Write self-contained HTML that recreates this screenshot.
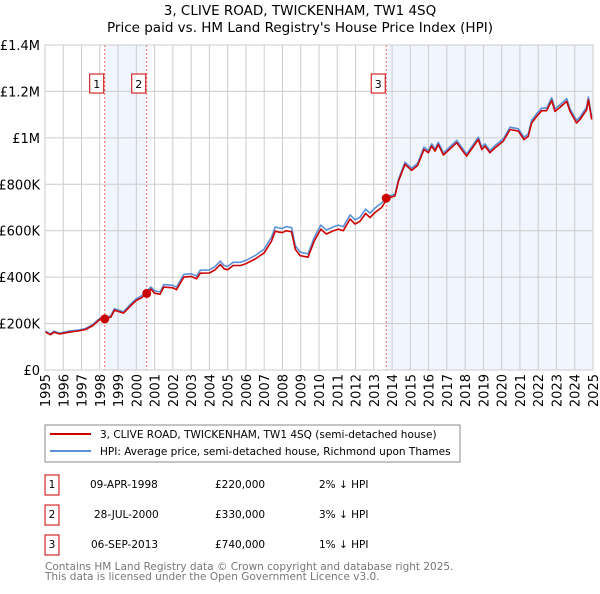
<!DOCTYPE html>
<html><head><meta charset="utf-8"><style>
body{margin:0;background:#fff;font-family:"DejaVu Sans","Liberation Sans",sans-serif;}
svg text{font-family:"DejaVu Sans","Liberation Sans",sans-serif;}
</style></head><body>
<svg id="chart" width="600" height="590" xmlns="http://www.w3.org/2000/svg">
<text x="300" y="15" text-anchor="middle" font-size="13.5" fill="#000">3, CLIVE ROAD, TWICKENHAM, TW1 4SQ</text>
<text x="300" y="32" text-anchor="middle" font-size="13.5" fill="#000">Price paid vs. HM Land Registry's House Price Index (HPI)</text>
<g id="shade"></g><g id="grid"></g><g id="series"></g><g id="marks"></g>
<rect x="45" y="45" width="548" height="325" fill="none" stroke="#ccc"/>
<g id="axes"></g>
<rect x="45" y="425" width="415" height="37" fill="#fff" stroke="#888"/>
<line x1="50" y1="434" x2="91" y2="434" stroke="#cc0000" stroke-width="2"/>
<text x="100" y="438" font-size="10.5">3, CLIVE ROAD, TWICKENHAM, TW1 4SQ (semi-detached house)</text>
<line x1="50" y1="451" x2="91" y2="451" stroke="#5b8fd6" stroke-width="2"/>
<text x="100" y="455" font-size="10.5">HPI: Average price, semi-detached house, Richmond upon Thames</text>
<g font-size="10.5">
<rect x="45" y="475" width="14" height="20" fill="none" stroke="#cc0000"/><text x="52" y="488" text-anchor="middle">1</text>
<text x="90" y="488">09-APR-1998</text><text x="215" y="488">£220,000</text><text x="319" y="488">2% ↓ HPI</text>
<rect x="45" y="505" width="14" height="20" fill="none" stroke="#cc0000"/><text x="52" y="518" text-anchor="middle">2</text>
<text x="94" y="518">28-JUL-2000</text><text x="215" y="518">£330,000</text><text x="319" y="518">3% ↓ HPI</text>
<rect x="45" y="535" width="14" height="20" fill="none" stroke="#cc0000"/><text x="52" y="548" text-anchor="middle">3</text>
<text x="91" y="548">06-SEP-2013</text><text x="215" y="548">£740,000</text><text x="319" y="548">1% ↓ HPI</text>
</g>
<text x="45" y="570" font-size="10.5" fill="#777">Contains HM Land Registry data © Crown copyright and database right 2025.</text>
<text x="45" y="580" font-size="10.5" fill="#777">This data is licensed under the Open Government Licence v3.0.</text>
</svg>
<script>
const dates=[1995.0,1995.3,1995.5,1995.8,1996.3,1996.8,1997.2,1997.6,1998.0,1998.27,1998.6,1998.8,1999.3,1999.7,2000.0,2000.3,2000.57,2000.8,2001.0,2001.3,2001.5,2002.0,2002.2,2002.6,2003.0,2003.3,2003.5,2004.0,2004.3,2004.6,2004.8,2005.0,2005.3,2005.7,2006.0,2006.5,2007.0,2007.4,2007.6,2007.8,2008.0,2008.2,2008.5,2008.7,2008.96,2009.4,2009.75,2010.1,2010.4,2010.8,2011.06,2011.33,2011.7,2011.97,2012.24,2012.55,2012.79,2013.07,2013.43,2013.74,2014.16,2014.35,2014.71,2015.07,2015.4,2015.75,2015.99,2016.17,2016.35,2016.53,2016.81,2017.54,2018.08,2018.72,2018.91,2019.09,2019.36,2019.64,2020.09,2020.46,2020.91,2021.22,2021.46,2021.64,2021.92,2022.19,2022.46,2022.74,2022.92,2023.19,2023.56,2023.74,2024.1,2024.29,2024.65,2024.75,2024.93];
const price=[164,152,163,155,163,168,174,190,218,220,228,258,245,278,300,312,330,348,331,326,357,354,346,400,403,393,417,418,431,455,436,432,450,450,458,478,505,555,598,594,592,600,595,520,493,486,557,607,586,600,607,600,650,629,640,674,657,679,700,740,750,814,886,860,881,950,936,964,943,971,926,979,921,993,950,964,936,957,986,1036,1029,993,1007,1064,1093,1117,1117,1161,1114,1131,1157,1114,1064,1079,1121,1164,1079];
const hpi=[168,156,167,159,167,172,178,195,223,225,233,264,251,285,307,320,340,358,341,336,368,365,357,412,415,405,430,431,445,469,450,446,464,464,472,493,521,572,616,612,610,618,613,536,508,500,573,624,603,617,624,617,668,647,658,693,676,698,720,748,757,822,895,869,890,960,945,974,952,981,935,989,930,1003,960,974,945,967,996,1046,1039,1003,1017,1075,1104,1128,1128,1173,1125,1142,1169,1125,1075,1090,1132,1176,1090];
const saleDates=[1998.27,2000.57,2013.68];
const salePrices=[220,330,740];
const saleLabels=["1","2","3"];
const yTicks=[0,200,400,600,800,1000,1200,1400];
const yTickLabels=["£0","£200K","£400K","£600K","£800K","£1M","£1.2M","£1.4M"];
const xYears=[1995,1996,1997,1998,1999,2000,2001,2002,2003,2004,2005,2006,2007,2008,2009,2010,2011,2012,2013,2014,2015,2016,2017,2018,2019,2020,2021,2022,2023,2024,2025];
const NS="http://www.w3.org/2000/svg";
const X=y=>45+(y-1995)*(548/30);
const Y=v=>370-v*(325/1400);
function mk(parent,tag,attrs,txt){const e=document.createElementNS(NS,tag);for(const k in attrs)e.setAttribute(k,attrs[k]);if(txt!==undefined)e.textContent=txt;document.getElementById(parent).appendChild(e);return e;}
[[saleDates[0],saleDates[1]],[saleDates[2],2025]].forEach((r,i)=>{
 const e=mk('shade','rect',{x:X(r[0]),y:45,width:X(r[1])-X(r[0]),height:325,fill:'#eef3fc',opacity:0.8});
 
 
});
yTicks.forEach((t,i)=>{
 const g=mk('grid','line',{x1:45,x2:593,y1:Y(t),y2:Y(t),stroke:'#ccc'});
 
 
 const l=mk('axes','text',{x:40,y:Y(t)+5,'text-anchor':'end','font-size':13},yTickLabels[i]);
 
 
});
xYears.forEach(yr=>{
 const g=mk('grid','line',{x1:X(yr),x2:X(yr),y1:45,y2:370,stroke:'#ccc'});
 
 
 const l=mk('axes','text',{x:0,y:0,'font-size':13,'text-anchor':'end',transform:`translate(${X(yr)+5},374) rotate(-90)`},String(yr));
 
 
});
const pts=a=>a.map((v,i)=>X(dates[i]).toFixed(1)+','+Y(v).toFixed(1)).join(' ');
const h=mk('series','polyline',{points:pts(hpi),fill:'none',stroke:'#5b8fd6','stroke-width':1.6,'stroke-linejoin':'round'});


const p=mk('series','polyline',{points:pts(price),fill:'none',stroke:'#cc0000','stroke-width':1.6,'stroke-linejoin':'round'});


saleDates.forEach((d,i)=>{
 const v=mk('marks','line',{x1:X(d),x2:X(d),y1:45,y2:370,stroke:'#f06060','stroke-dasharray':'2,2'});
 
 
 const c=mk('marks','circle',{cx:X(d),cy:Y(salePrices[i]),r:4.5,fill:'#cc0000'});
 
 
 const bx=X(d)-15;
 const b=mk('marks','rect',{x:bx,y:74,width:14,height:19,fill:'#fff',stroke:'#cc0000'});
 
 
 const t=mk('marks','text',{x:bx+7,y:88,'text-anchor':'middle','font-size':11},saleLabels[i]);
 
 
});
</script>
</body></html>
